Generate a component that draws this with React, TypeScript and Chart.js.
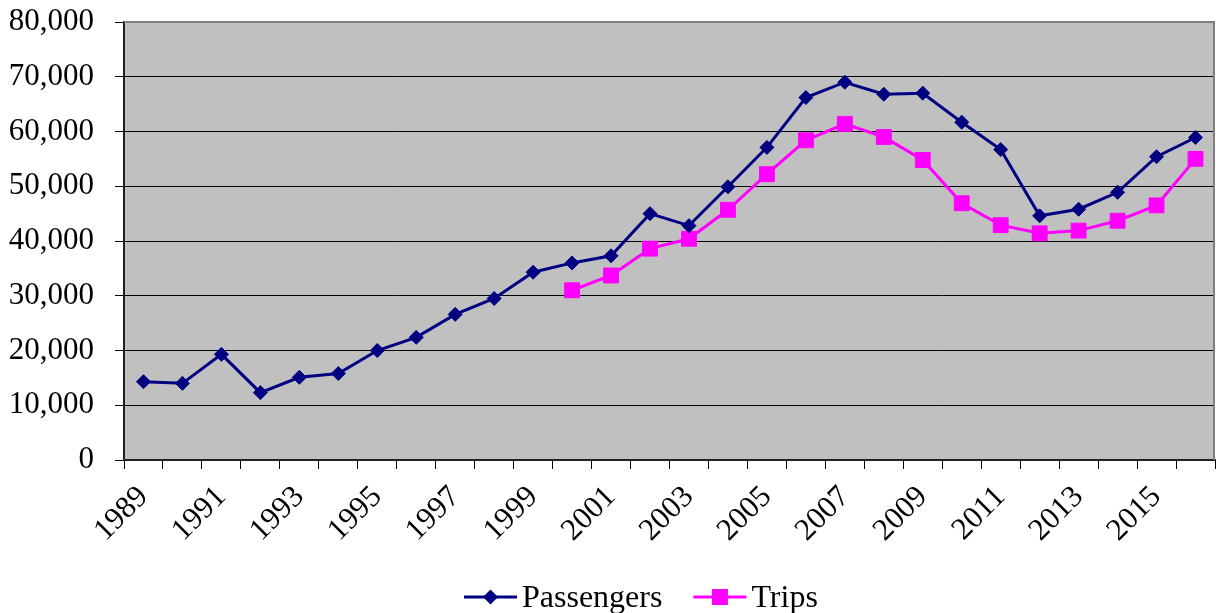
import React, { useEffect, useRef } from "react";
import { Chart, registerables } from "chart.js";

Chart.register(...registerables);

const years: string[] = [
  "1989", "1990", "1991", "1992", "1993", "1994", "1995", "1996", "1997", "1998",
  "1999", "2000", "2001", "2002", "2003", "2004", "2005", "2006", "2007", "2008",
  "2009", "2010", "2011", "2012", "2013", "2014", "2015", "2016",
];

const passengers: (number | null)[] = [
  14300, 14000, 19300, 12300, 15100, 15800, 20000, 22400, 26600, 29500,
  34300, 36000, 37300, 45000, 42800, 49900, 57100, 66200, 69000, 66800,
  67000, 61700, 56700, 44600, 45800, 48900, 55400, 58900,
];

const trips: (number | null)[] = [
  null, null, null, null, null, null, null, null, null, null,
  null, 31000, 33700, 38600, 40400, 45700, 52200, 58400, 61400, 59000,
  54800, 46900, 42900, 41400, 41900, 43700, 46500, 55000,
];

const FONT = "'Liberation Serif', 'Times New Roman', serif";

export default function App() {
  const ref = useRef<HTMLCanvasElement | null>(null);

  useEffect(() => {
    if (!ref.current) return;

    const plotBg = {
      id: "plotBg",
      beforeDraw(chart: any) {
        const { ctx, chartArea: a } = chart;
        ctx.save();
        ctx.fillStyle = "#C0C0C0";
        ctx.fillRect(a.left, a.top, a.right - a.left, a.bottom - a.top);
        ctx.restore();
      },
      beforeDatasetsDraw(chart: any) {
        const { ctx, chartArea: a } = chart;
        ctx.save();
        ctx.strokeStyle = "#808080";
        ctx.lineWidth = 2;
        ctx.beginPath();
        ctx.moveTo(a.left, a.top);
        ctx.lineTo(a.right - 1, a.top);
        ctx.lineTo(a.right - 1, a.bottom);
        ctx.stroke();
        ctx.restore();
      },
    };

    const customLegend = {
      id: "customLegend",
      afterDraw(chart: any) {
        const { ctx } = chart;
        ctx.save();
        ctx.font = `32px ${FONT}`;
        ctx.textBaseline = "alphabetic";
        ctx.textAlign = "left";
        let x = 464;
        const lineY = 597;
        chart.data.datasets.forEach((ds: any) => {
          const color = ds.borderColor;
          ctx.strokeStyle = color;
          ctx.lineWidth = 3;
          ctx.beginPath();
          ctx.moveTo(x, lineY);
          ctx.lineTo(x + 53, lineY);
          ctx.stroke();
          const cx = x + 26.5;
          ctx.fillStyle = ds.pointBackgroundColor;
          if (ds.pointStyle === "rectRot") {
            const r = 7.5;
            ctx.beginPath();
            ctx.moveTo(cx - r, lineY);
            ctx.lineTo(cx, lineY - r);
            ctx.lineTo(cx + r, lineY);
            ctx.lineTo(cx, lineY + r);
            ctx.closePath();
            ctx.fill();
          } else {
            ctx.fillRect(cx - 8, lineY - 8, 16, 16);
          }
          ctx.fillStyle = "#000";
          ctx.fillText(ds.label, x + 58, 607);
          const w = ctx.measureText(ds.label).width;
          x = x + 58 + w + 31;
        });
        ctx.restore();
      },
    };

    const chart = new Chart(ref.current, {
      type: "line",
      data: {
        labels: years,
        datasets: [
          {
            label: "Passengers",
            data: passengers,
            borderColor: "#000080",
            backgroundColor: "#000080",
            pointBackgroundColor: "#000080",
            pointBorderColor: "#000080",
            pointStyle: "rectRot",
            pointRadius: 7,
            pointBorderWidth: 1,
            borderWidth: 3,
            tension: 0,
          },
          {
            label: "Trips",
            data: trips,
            borderColor: "#FF00FF",
            backgroundColor: "#FF00FF",
            pointBackgroundColor: "#FF00FF",
            pointBorderColor: "#FF00FF",
            pointStyle: "rect",
            pointRadius: 10.5,
            pointBorderWidth: 1,
            borderWidth: 3,
            tension: 0,
          },
        ],
      },
      options: {
        animation: false,
        responsive: false,
        maintainAspectRatio: false,
        layout: { autoPadding: false, padding: { top: 22, right: 1, left: 0, bottom: 0 } },
        plugins: {
          legend: { display: false },
          tooltip: { enabled: false },
        },
        scales: {
          x: {
            type: "category",
            offset: true,
            afterFit(scale: any) {
              scale.height = 153;
              scale.paddingLeft = 0;
              scale.paddingRight = 0;
            },
            grid: {
              offset: true,
              drawOnChartArea: false,
              drawTicks: true,
              tickLength: 9,
              color: "#000",
              tickColor: "#000",
            },
            border: { display: true, color: "#202020", width: 2 },
            ticks: {
              autoSkip: false,
              maxRotation: 45,
              minRotation: 45,
              padding: 10,
              color: "#000",
              font: { family: FONT, size: 31 },
              callback: (_v: any, i: number) => (i % 2 === 0 ? years[i] : ""),
            },
          },
          y: {
            min: 0,
            max: 80000,
            afterFit(scale: any) {
              scale.width = 124;
              scale.paddingTop = 0;
              scale.paddingBottom = 0;
            },
            grid: {
              tickLength: 9,
              color: (c: any) => (c.tick && c.tick.value === 80000 ? "#808080" : "#000"),
              tickColor: "#000",
              lineWidth: 1,
            },
            border: { display: true, color: "#202020", width: 2 },
            ticks: {
              stepSize: 10000,
              padding: 21,
              color: "#000",
              font: { family: FONT, size: 31 },
              callback: (v: any) => Number(v).toLocaleString("en-US"),
            },
          },
        },
      },
      plugins: [plotBg, customLegend],
    });

    return () => chart.destroy();
  }, []);

  return (
    <div style={{ position: "absolute", left: 0, top: 0, width: 1216, height: 613, background: "#fff" }}>
      <canvas ref={ref} width={1216} height={613} style={{ display: "block" }} />
    </div>
  );
}
